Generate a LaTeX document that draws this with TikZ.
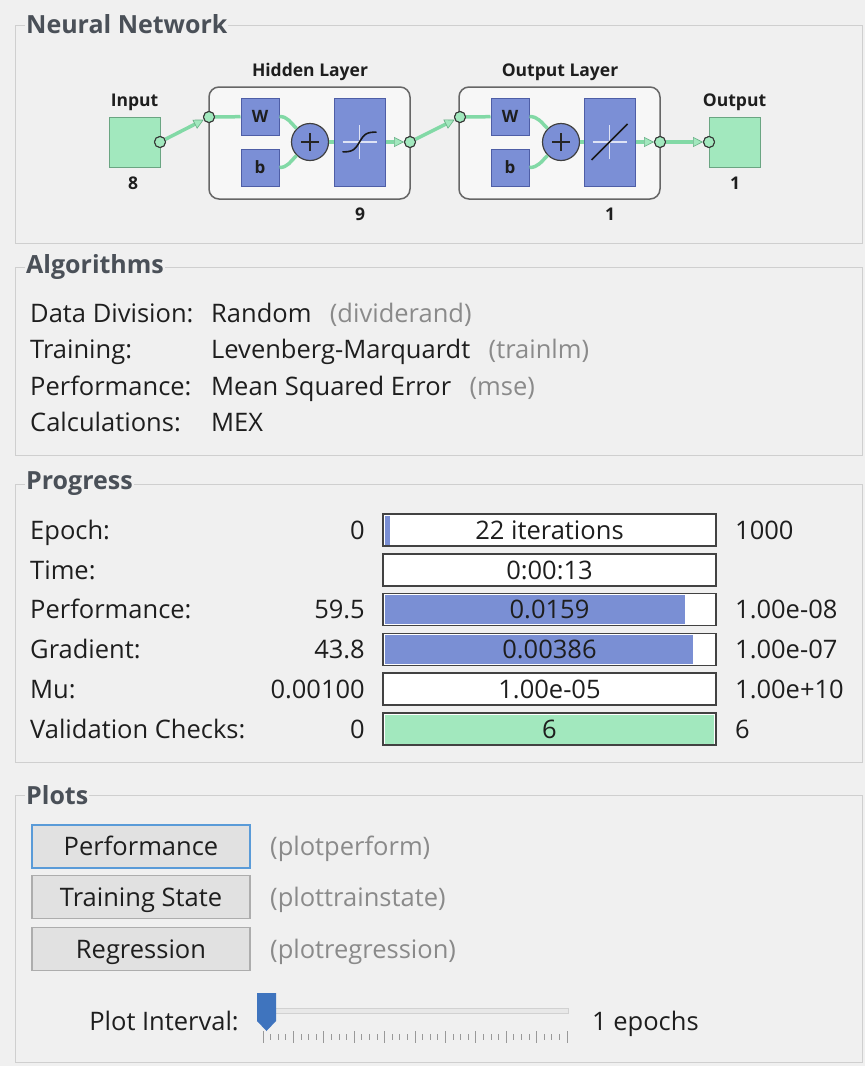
\documentclass[tikz,border=0pt]{standalone}
\usepackage{fontspec}
\setmainfont{Open Sans}
\usetikzlibrary{arrows.meta,calc}
\definecolor{bg}{HTML}{F0F0F0}
\definecolor{frame}{HTML}{CFCFCF}
\definecolor{titlec}{HTML}{4A5058}
\definecolor{txtc}{HTML}{1E1E1E}
\definecolor{graytxt}{HTML}{8A8A8A}
\definecolor{nngreen}{HTML}{A2E8BE}
\definecolor{nngreenD}{HTML}{6AA582}
\definecolor{conng}{HTML}{82D9A6}
\definecolor{nnblue}{HTML}{7B8FD6}
\definecolor{nnblueD}{HTML}{4E5EA6}
\definecolor{barblue}{HTML}{7A8FD4}
\definecolor{bargreen}{HTML}{A2E8BE}
\definecolor{barborder}{HTML}{424242}
\definecolor{btnfill}{HTML}{E1E1E1}
\definecolor{btnborder}{HTML}{ADADAD}
\definecolor{btnfocus}{HTML}{5A9BD8}
\definecolor{thumb}{HTML}{3F74BE}
\tikzset{
  grp/.style={draw=frame, line width=1pt},
  grptitle/.style={font=\fontsize{25}{29}\selectfont\bfseries, text=titlec, fill=bg, inner xsep=1pt, inner ysep=1pt, anchor=west},
  txt/.style={font=\fontsize{25.5}{30}\selectfont, text=txtc, inner sep=0pt},
  gtxt/.style={txt, text=graytxt},
  nnlabel/.style={font=\fontsize{17.5}{21}\selectfont\bfseries, text=txtc, inner sep=0pt},
  greenbox/.style={draw=nngreenD, fill=nngreen, line width=1pt, minimum width=51pt, minimum height=50pt},
  bluebox/.style={draw=nnblueD, fill=nnblue, line width=1pt, font=\fontsize{17}{20}\selectfont\bfseries, text=txtc, inner sep=0pt},
  layerbox/.style={draw=black!60, fill=white!97!black, line width=1.5pt, rounded corners=10pt, minimum width=201pt, minimum height=112pt},
  pluscirc/.style={circle, draw=black!75, fill=nnblue, line width=1.2pt, minimum size=37pt, inner sep=0pt},
  dot/.style={circle, draw=black!80, fill=nngreen, line width=1pt, minimum size=11pt, inner sep=0pt},
  conn/.style={draw=conng, line width=3.5pt},
  arr/.style={-{Triangle[length=10pt,width=10pt,fill=nngreen,color=conng!80!black,line width=0.6pt]}},
  bar/.style={draw=barborder, fill=white, line width=1.8pt, minimum width=333pt, minimum height=32pt, txt, text height=18pt, text depth=0pt},
  fillbar/.style 2 args={path picture={\fill[#1] ([shift={(1.5pt,-1.5pt)}]path picture bounding box.north west) rectangle ([shift={(#2,1.5pt)}]path picture bounding box.south west);}},
  button/.style={draw=btnborder, fill=btnfill, line width=1.2pt, minimum width=218pt, minimum height=43pt, txt, text height=18pt, text depth=0pt},
}
\begin{document}
\begin{tikzpicture}[x=1pt,y=-1pt]
\useasboundingbox (0,0) rectangle (865,1066);
\fill[bg] (0,0) rectangle (865,1066);

% ---------- group frames ----------
\draw[grp] (15,25) rectangle (862,243);
\node[grptitle] (tNN) at (25,24) {Neural Network};
\draw[grp] (15,267) rectangle (862,455);
\node[grptitle] (tAlg) at (25,267) {Algorithms};
\draw[grp] (15,484) rectangle (862,762);
\node[grptitle] (tProg) at (25,484) {Progress};
\draw[grp] (15,795) rectangle (862,1062);
\node[grptitle] (tPlots) at (25,795) {Plots};

% ---------- neural network ----------
\node[greenbox] (in) at (134.5,142) {};
\node[nnlabel] (inL) at (134.5,102) {Input};
\node[nnlabel] (inN) at (133,183) {8};
\node[dot] (iout) at (160,142) {};

% hidden layer
\node[layerbox] (hl) at (309.5,143) {};
\node[nnlabel] (hlL) at (310,72) {Hidden Layer};
\node[nnlabel] (hlN) at (360,214) {9};
\node[bluebox, minimum width=38pt, minimum height=37pt] (hw) at (260,116.5) {W};
\node[bluebox, minimum width=38pt, minimum height=37pt] (hb) at (260,167.5) {b};
\node[pluscirc] (hp) at (310,142) {};
\node[bluebox, minimum width=51pt, minimum height=88pt] (ht) at (359.5,142) {};
\node[dot] (hin) at (209,117) {};
\node[dot] (hout) at (410,142) {};

% output layer
\node[layerbox] (ol) at (559.5,143) {};
\node[nnlabel] (olL) at (560,72) {Output Layer};
\node[nnlabel] (olN) at (610,214) {1};
\node[bluebox, minimum width=38pt, minimum height=37pt] (ow) at (510,116.5) {W};
\node[bluebox, minimum width=38pt, minimum height=37pt] (ob) at (510,167.5) {b};
\node[pluscirc] (op) at (561,142) {};
\node[bluebox, minimum width=51pt, minimum height=88pt] (ot) at (609.5,142) {};
\node[dot] (oin) at (460,117) {};
\node[dot] (oout) at (660,142) {};

% output
\node[greenbox] (out) at (734.5,142) {};
\node[nnlabel] (outL) at (734.5,102) {Output};
\node[nnlabel] (outN) at (735,183) {1};
\node[dot] (outin) at (709,142) {};

% connectors
\draw[conn,arr] (iout) -- (hin);
\draw[conn] (hin) -- (hw);
\draw[conn] (hw.east) to[out=0,in=135] (hp);
\draw[conn] (hb.east) to[out=0,in=-135] (hp);
\draw[conn] (hp) -- (ht);
\draw[conn,arr] (ht) -- (hout);
\draw[conn,arr] (hout) -- (oin);
\draw[conn] (oin) -- (ow);
\draw[conn] (ow.east) to[out=0,in=135] (op);
\draw[conn] (ob.east) to[out=0,in=-135] (op);
\draw[conn] (op) -- (ot);
\draw[conn,arr] (ot) -- (oout);
\draw[conn,arr] (oout) -- (outin);
% redraw dots on top
\node[dot] at (iout) {};
\node[dot] at (hin) {};
\node[dot] at (hout) {};
\node[dot] at (oin) {};
\node[dot] at (oout) {};
\node[dot] at (outin) {};

% plus signs
\foreach \p in {hp,op}{
  \draw[black!85, line width=1.8pt] ([xshift=-9pt]\p.center) -- ([xshift=9pt]\p.center);
  \draw[black!85, line width=1.8pt] ([yshift=-9pt]\p.center) -- ([yshift=9pt]\p.center);
}
% transfer functions
\foreach \t in {ht,ot}{
  \draw[white!75!nnblue, line width=1.2pt] ([xshift=-17pt]\t.center) -- ([xshift=17pt]\t.center);
  \draw[white!75!nnblue, line width=1.2pt] ([yshift=-17pt]\t.center) -- ([yshift=17pt]\t.center);
}
\draw[black!90, line width=1.6pt, shift={(ht.center)}] plot[domain=-17:17, samples=40, smooth] ({\x},{-10*tanh(\x/6)});
\draw[black!90, line width=1.6pt] ([shift={(-18pt,-18pt)}]ot.center) -- ([shift={(18pt,18pt)}]ot.center);

% ---------- algorithms ----------
\node[txt, anchor=base west] (a1) at (30,322) {Data Division:};
\node[txt, anchor=base west] (a1v) at (211,322) {Random};
\node[gtxt, anchor=base west] (a1p) at ([xshift=18pt]a1v.base east) {(dividerand)};
\node[txt, anchor=base west] (a2) at (30,358.5) {Training:};
\node[txt, anchor=base west] (a2v) at (211,358.5) {Levenberg-Marquardt};
\node[gtxt, anchor=base west] (a2p) at ([xshift=18pt]a2v.base east) {(trainlm)};
\node[txt, anchor=base west] (a3) at (30,395) {Performance:};
\node[txt, anchor=base west] (a3v) at (211,395) {Mean Squared Error};
\node[gtxt, anchor=base west] (a3p) at ([xshift=18pt]a3v.base east) {(mse)};
\node[txt, anchor=base west] (a4) at (30,431.5) {Calculations:};
\node[txt, anchor=base west] (a4v) at (211,431.5) {MEX};

% ---------- progress ----------
\node[txt, anchor=base west] (p1) at (30,539) {Epoch:};
\node[txt, anchor=base east] (p1l) at (365,539) {0};
\node[bar, fillbar={barblue}{7pt}] (b1) at (549.5,530) {22 iterations};
\node[txt, anchor=base west] (p1r) at (735,539) {1000};

\node[txt, anchor=base west] (p2) at (30,579) {Time:};
\node[bar] (b2) at (549.5,570) {0:00:13};

\node[txt, anchor=base west] (p3) at (30,618.5) {Performance:};
\node[txt, anchor=base east] (p3l) at (365,618.5) {59.5};
\node[bar, fillbar={barblue}{302pt}] (b3) at (549.5,609.5) {0.0159};
\node[txt, anchor=base west] (p3r) at (735,618.5) {1.00e-08};

\node[txt, anchor=base west] (p4) at (30,658.5) {Gradient:};
\node[txt, anchor=base east] (p4l) at (365,658.5) {43.8};
\node[bar, fillbar={barblue}{310pt}] (b4) at (549.5,649.5) {0.00386};
\node[txt, anchor=base west] (p4r) at (735,658.5) {1.00e-07};

\node[txt, anchor=base west] (p5) at (30,698) {Mu:};
\node[txt, anchor=base east] (p5l) at (365,698) {0.00100};
\node[bar] (b5) at (549.5,689) {1.00e-05};
\node[txt, anchor=base west] (p5r) at (735,698) {1.00e+10};

\node[txt, anchor=base west] (p6) at (30,738) {Validation Checks:};
\node[txt, anchor=base east] (p6l) at (365,738) {0};
\node[bar, fillbar={bargreen}{331pt}] (b6) at (549.5,729) {6};
\node[txt, anchor=base west] (p6r) at (735,738) {6};

% ---------- plots ----------
\node[button, draw=btnfocus, line width=2pt] (btn1) at (141,846) {Performance};
\node[gtxt, anchor=base west] (btn1p) at (270,855) {(plotperform)};
\node[button] (btn2) at (141,897) {Training State};
\node[gtxt, anchor=base west] (btn2p) at (270,906) {(plottrainstate)};
\node[button] (btn3) at (141,949) {Regression};
\node[gtxt, anchor=base west] (btn3p) at (270,958) {(plotregression)};

\node[txt, anchor=base east] (pi) at (239,1030) {Plot Interval:};
\node[txt, anchor=base west] (pie) at (592,1030) {1 epochs};
% slider track
\draw[draw=black!18, fill=black!9, line width=0.8pt] (266,1008.5) rectangle (568,1013.5);
% ticks
\foreach \i in {0,...,40}{
  \pgfmathsetmacro{\xx}{263+\i*7.6}
  \pgfmathparse{mod(\i,4)==0 ? 1 : 0}
  \ifnum\pgfmathresult=1
    \draw[black!40, line width=0.8pt] (\xx,1031) -- (\xx,1043);
  \else
    \draw[black!40, line width=0.8pt] (\xx,1034) -- (\xx,1040);
  \fi
}
% thumb
\fill[thumb] (257,993) -- (276,993) -- (276,1021) -- (266.5,1031) -- (257,1021) -- cycle;
\end{tikzpicture}
\end{document}
